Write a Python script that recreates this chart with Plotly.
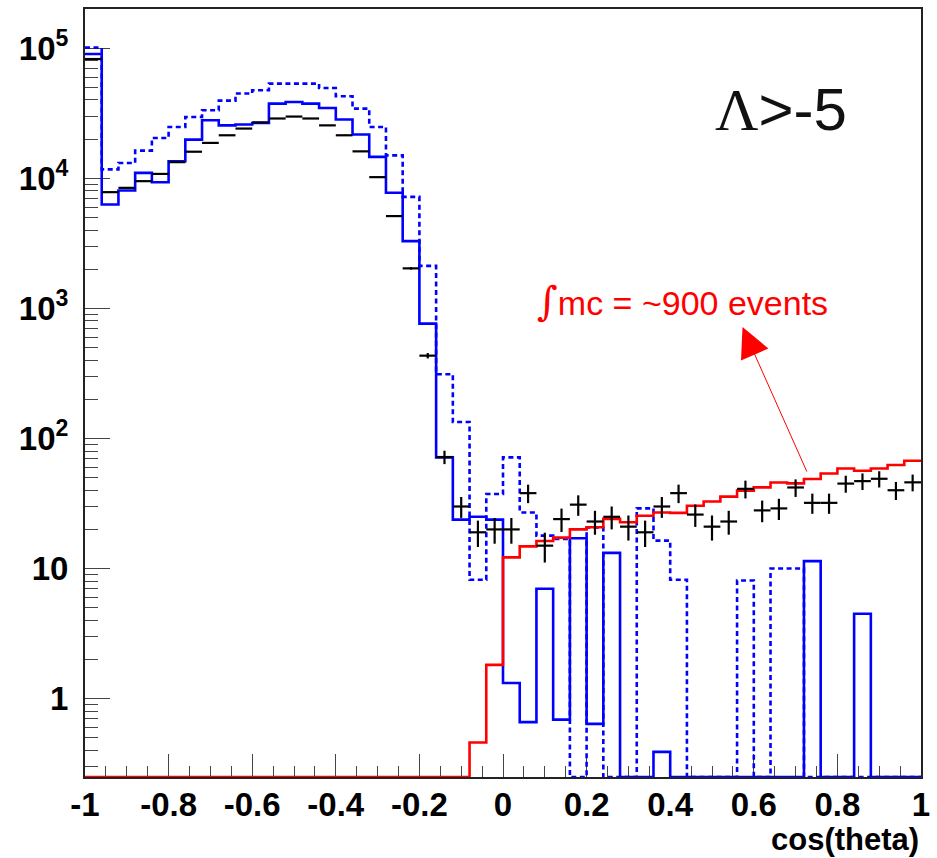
import numpy as np
import plotly.graph_objects as go

# ---------------- data ----------------
bin_lo, bin_hi, n_bins = -1.0, 1.0, 50

data_counts = [82500, 7820, 8440, 9500, 10800, 13300, 16000, 18700, 21400, 24100,
               26900, 28800, 29800, 28800, 25500, 21400, 16100, 10200, 5120, 2030,
               433, 72, 30, 19, 20, 20, 38, 15, 24, 31,
               23, 25, 21, 19, 30, 38, 26, 21, 23, 41,
               28, 29, 42, 32, 32, 45, 47, 49, 40, 46]

blue_solid = [90100, 6290, 8060, 11000, 9330, 13500, 19800, 27900, 25500, 25900,
              26600, 37500, 38600, 37500, 34700, 28300, 21700, 14600, 7730, 3290,
              763, 71.5, 23.8, 25.0, 23.8, 1.32, 0.66, 7.0, 0.69, 17.1,
              0.64, 13.2, 0, 0, 0.39, 0, 0, 0, 0, 0,
              0, 0, 0, 11.4, 0, 0, 4.5, 0, 0, 0]

blue_dashed = [101000, 11700, 13100, 16300, 20400, 24800, 29600, 33300, 39500, 44800,
               47500, 53400, 53400, 53400, 49400, 42700, 34300, 24800, 15000, 7200,
               2120, 312, 134, 8.2, 37.4, 71.5, 27.0, 17.9, 16.9, 0,
               20.7, 0, 0, 29.0, 16.4, 8.2, 0, 0, 0, 8.1,
               0, 10.0, 10.0, 0, 0, 0, 0, 0, 0, 0]

mc_red = [0] * 23 + [0.46, 1.82, 12.2, 14.8, 16.3, 17.3, 20.0, 20.8, 24.1, 22.7,
                     25.5, 27.0, 26.8, 30.4, 32.8, 35.7, 39.7, 42.1, 45.9, 45.2,
                     48.8, 53.8, 58.8, 56.5, 58.8, 62.5, 67.4]

x_tick_vals = [-1, -0.8, -0.6, -0.4, -0.2, 0, 0.2, 0.4, 0.6, 0.8, 1]
x_tick_text = ["-1", "-0.8", "-0.6", "-0.4", "-0.2", "0", "0.2", "0.4", "0.6", "0.8", "1"]
y_tick_vals = [1, 10, 100, 1000, 10000, 100000]
y_tick_text = ["1", "10", "10<sup>2</sup>", "10<sup>3</sup>", "10<sup>4</sup>", "10<sup>5</sup>"]

y_min, y_max = 0.25, 2.0e5

# ---------------- figure ----------------
edges = np.linspace(bin_lo, bin_hi, n_bins + 1)
centers = 0.5 * (edges[:-1] + edges[1:])
half_w = 0.5 * (edges[1] - edges[0])


def step_xy(vals):
    v = np.asarray(vals, dtype=float)
    v = np.where(v > 0, v, y_min)  # empty bins drawn on the frame bottom (ROOT style)
    xs = edges
    ys = np.r_[v, v[-1]]
    return xs, ys


fig = go.Figure()

for vals, color, dash in [(blue_dashed, "#0000ff", "5px,3.5px"),
                          (blue_solid, "#0000ff", "solid"),
                          (mc_red, "#ff0000", "solid")]:
    xs, ys = step_xy(vals)
    fig.add_trace(go.Scatter(x=xs, y=ys, mode="lines", line_shape="hv",
                             line=dict(color=color, width=2.6, dash=dash),
                             hoverinfo="skip", showlegend=False))

fig.add_trace(go.Scatter(
    x=centers, y=data_counts, mode="markers",
    marker=dict(size=1, color="rgba(0,0,0,0)"),
    error_x=dict(type="constant", value=half_w, width=0, thickness=2.2, color="black"),
    error_y=dict(type="sqrt", width=0, thickness=2.2, color="black"),
    showlegend=False))

minor_y = [m * 10.0 ** k for k in range(-1, 6) for m in range(2, 10)
           if y_min < m * 10.0 ** k < y_max]

fig.update_layout(
    width=937, height=858,
    margin=dict(l=85, r=14, t=7, b=81),
    paper_bgcolor="white", plot_bgcolor="white",
    showlegend=False,
    xaxis=dict(range=[bin_lo, bin_hi], tickmode="array", tickvals=x_tick_vals, ticktext=x_tick_text,
               ticks="inside", ticklen=23, tickwidth=1, tickcolor="#444",
               minor=dict(tickmode="array", tickvals=list(np.round(np.arange(-1, 1.0001, 0.05), 3)),
                          ticks="inside", ticklen=11, tickwidth=1, tickcolor="#444"),
               showgrid=False, zeroline=False, showline=True, mirror=True,
               linecolor="#222", linewidth=2, layer="below traces",
               tickfont=dict(family="Liberation Sans Narrow, Arial Narrow, Liberation Sans, Arial",
                             size=33, color="black", weight="bold"),
               ticklabelstandoff=-3),
    yaxis=dict(type="log", range=[np.log10(y_min), np.log10(y_max)],
               tickmode="array", tickvals=y_tick_vals, ticktext=y_tick_text,
               ticks="inside", ticklen=25, tickwidth=1, tickcolor="#444",
               minor=dict(tickmode="array", tickvals=minor_y, ticks="inside",
                          ticklen=13, tickwidth=1, tickcolor="#444"),
               showgrid=False, zeroline=False, showline=True, mirror=True,
               linecolor="#222", linewidth=2, layer="below traces",
               tickfont=dict(family="Liberation Sans, Arial", size=33, color="black", weight="bold"),
               ticklabelstandoff=8),
)

fig.add_annotation(xref="paper", yref="paper", x=1.0, y=-0.081, xanchor="right", yanchor="middle",
                   text="cos(theta)", showarrow=False,
                   font=dict(family="Liberation Sans Narrow, Arial Narrow, Liberation Sans, Arial",
                             size=31, color="black", weight="bold"))

fig.add_annotation(xref="paper", yref="paper", x=0.833, y=0.869, xanchor="center", yanchor="middle",
                   text="<span style=\"font-family:'Liberation Serif'\">Λ</span>&gt;-5", showarrow=False,
                   font=dict(family="Liberation Sans, Arial", size=60, color="#111"))

fig.add_annotation(xref="paper", yref="paper", x=0.5385, y=0.6196, xanchor="left", yanchor="middle",
                   text="<span style=\"font-family:'DejaVu Serif';font-size:40px\">∫</span>mc = ~900 events",
                   showarrow=False,
                   font=dict(family="Liberation Sans, Arial", size=34, color="#ff0000"))

fig.add_annotation(xref="paper", yref="paper", x=0.7865, y=0.5858, text="",
                   showarrow=True, arrowhead=2, arrowsize=6, arrowwidth=1, arrowcolor="#ff0000",
                   ax=65, ay=146)

fig.write_html("out.html",
               config={"displayModeBar": False},
               post_script="document.body.style.margin='0';document.body.style.padding='0';"
                           "document.body.style.overflow='hidden';")
